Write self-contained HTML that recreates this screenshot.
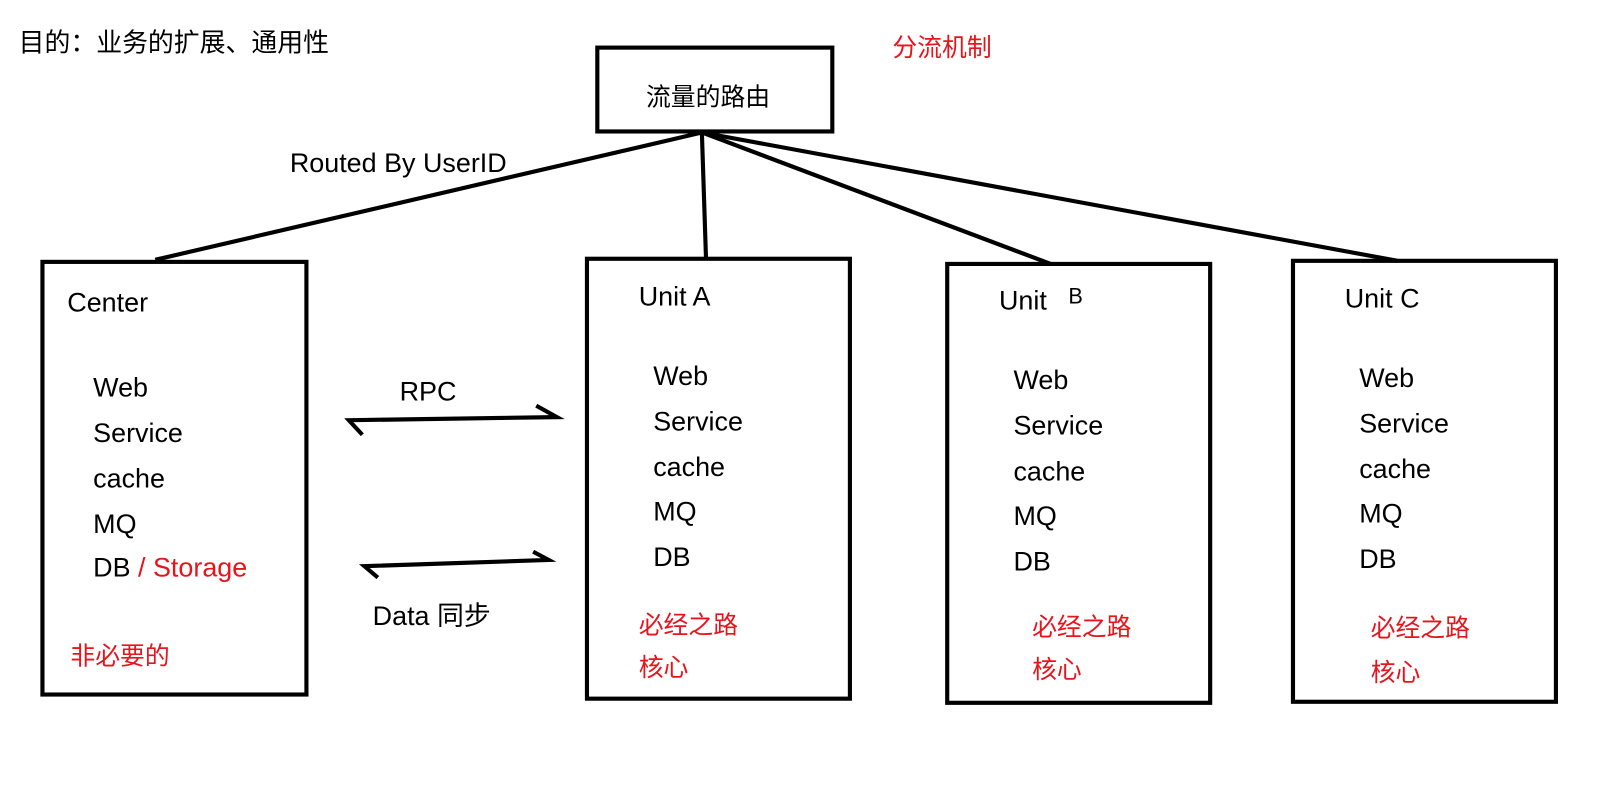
<!DOCTYPE html>
<html><head><meta charset="utf-8"><style>
body{margin:0;background:#fff;}
svg{display:block;}
text{font-family:"Liberation Sans","Noto Sans CJK SC",sans-serif;font-size:26px;fill:#000;}
.r{fill:#e8141c;}
.c{font-size:24px;}
</style></head><body>
<svg width="1617" height="797" viewBox="0 0 1562 770" preserveAspectRatio="none">
<text x="18" y="50" style="font-size:25px">目的：业务的扩展、通用性</text>
<text x="862" y="54" class="r c">分流机制</text>
<g fill="none" stroke="#000" stroke-width="4">
<rect x="577" y="46" width="227" height="81"/>
<rect x="41" y="253" width="255" height="418"/>
<rect x="567" y="250" width="254" height="425"/>
<rect x="915" y="255" width="254" height="424"/>
<rect x="1249" y="252" width="254" height="426"/>
<line x1="678" y1="128" x2="150" y2="251"/>
<line x1="678" y1="128" x2="682" y2="250"/>
<line x1="678" y1="128" x2="1015" y2="255"/>
<line x1="678" y1="128" x2="1350" y2="252"/>
<polyline points="350,420 337,406 538,403 518,392"/>
<polyline points="365,558 352,547 530,541 515,533"/>
</g>
<text x="624" y="102" class="c">流量的路由</text>
<text x="280" y="166">Routed By UserID</text>
<text x="386" y="387">RPC</text>
<text x="360" y="604">Data 同步</text>
<text x="65" y="301">Center</text>
<text x="90" y="383">Web</text><text x="90" y="427">Service</text><text x="90" y="471">cache</text><text x="90" y="515">MQ</text>
<text x="90" y="557">DB <tspan class="r">/ Storage</tspan></text>
<text x="68" y="642" class="r c">非必要的</text>
<text x="617" y="295">Unit A</text>
<text x="631" y="372">Web</text><text x="631" y="416">Service</text><text x="631" y="460">cache</text><text x="631" y="503">MQ</text><text x="631" y="547">DB</text>
<text x="617" y="612" class="r c">必经之路</text><text x="617" y="653" class="r c">核心</text>
<text x="965" y="299">Unit</text><text x="1032" y="293" style="font-size:21px">B</text>
<text x="979" y="376">Web</text><text x="979" y="420">Service</text><text x="979" y="464">cache</text><text x="979" y="507">MQ</text><text x="979" y="551">DB</text>
<text x="997" y="614" class="r c">必经之路</text><text x="997" y="655" class="r c">核心</text>
<text x="1299" y="297">Unit C</text>
<text x="1313" y="374">Web</text><text x="1313" y="418">Service</text><text x="1313" y="462">cache</text><text x="1313" y="505">MQ</text><text x="1313" y="549">DB</text>
<text x="1324" y="615" class="r c">必经之路</text><text x="1324" y="658" class="r c">核心</text>
</svg>
</body></html>
